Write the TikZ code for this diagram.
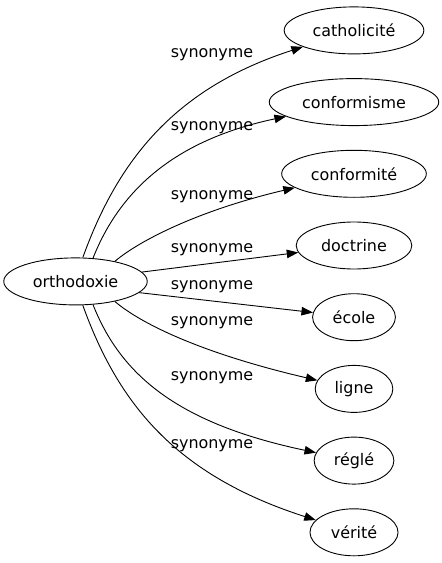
\documentclass[tikz,border=0pt]{standalone}
\usepackage{fontspec}
\setmainfont{DejaVu Sans}
\usepackage{tikz}
\usetikzlibrary{arrows.meta, shapes.geometric}

\begin{document}
\begin{tikzpicture}[x=1bp, y=-1bp, line width=0.9bp,
  word/.style={draw, ellipse, minimum height=47bp, inner xsep=8bp, inner ysep=2bp, font=\fontsize{16}{19}\selectfont},
  rel/.style={inner sep=1bp, font=\fontsize{16}{19}\selectfont},
  edge/.style={-{Triangle[length=11.5bp, width=8.5bp]}}]
\useasboundingbox (0,0) rectangle (442,563);
\node[word] (ortho) at (75.5,281.4) {orthodoxie};
\node[word] (cath) at (354,30.4) {catholicité};
\node[word] (confm) at (354,102.1) {conformisme};
\node[word] (confe) at (354,173.8) {conformité};
\node[word] (doct) at (354,245.5) {doctrine};
\node[word] (ecole) at (354,317.2) {école};
\node[word] (ligne) at (354,388.9) {ligne};
\node[word] (regle) at (354,460.6) {réglé};
\node[word] (verite) at (354,532.3) {vérité};
\draw[edge] (ortho.73) .. controls (118,160) and (175,88) .. (cath);
\draw[edge] (ortho.53) .. controls (120,190) and (175,140) .. (confm);
\draw[edge] (ortho.27) .. controls (140,240) and (200,210) .. (confe);
\draw[edge] (ortho.8) -- (doct);
\draw[edge] (ortho.-10) -- (ecole);
\draw[edge] (ortho.-27) .. controls (140,323) and (200,353) .. (ligne);
\draw[edge] (ortho.-53) .. controls (120,373) and (175,423) .. (regle);
\draw[edge] (ortho.-73) .. controls (118,403) and (175,475) .. (verite);
% labels
\node[rel] (syn1) at (212,55) {synonyme};
\node[rel] (syn2) at (212,128) {synonyme};
\node[rel] (syn3) at (212,197) {synonyme};
\node[rel] (syn4) at (212,250) {synonyme};
\node[rel] (syn5) at (212,287) {synonyme};
\node[rel] (syn6) at (212,323) {synonyme};
\node[rel] (syn7) at (212,378) {synonyme};
\node[rel] (syn8) at (212,446) {synonyme};
\end{tikzpicture}
\end{document}
